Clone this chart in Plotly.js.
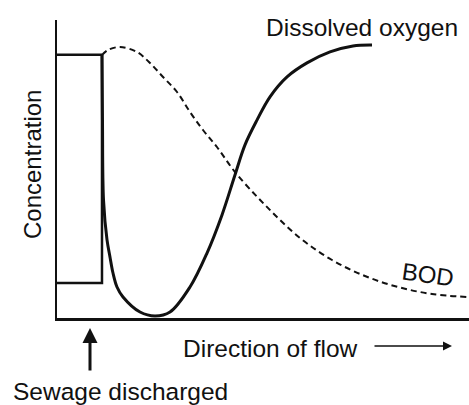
<!DOCTYPE html>
<html>
<head>
<meta charset="utf-8">
<script src="https://cdn.plot.ly/plotly-3.0.1.min.js"></script>
<style>html,body{margin:0;padding:0;background:#fff;}#chart{width:469px;height:405px;}</style>
</head>
<body>
<div id="chart"></div>
<script>
// Distance downstream (0-100) and concentration (0-100), schematic values
var doBeforeX = [0, 10.92];
var doBeforeY = [88.3, 88.3];

var doX = [10.92, 11.04, 11.29, 12.14, 12.86, 13.59, 14.56, 16.02, 20.15, 23.79, 27.43, 32.28, 36.41, 40.05, 43.2, 45.63, 48.54, 51.7, 55.83, 60.68, 66.26, 71.84, 76.46];
var doY = [88.3, 66.4, 39.6, 26.2, 20.5, 15.1, 10.4, 7.05, 2.0, 0.67, 2.0, 10.4, 21.8, 34.6, 48.0, 58.1, 66.4, 74.2, 80.9, 85.6, 89.3, 91.3, 91.6];

var bodBeforeX = [0, 10.92, 10.92];
var bodBeforeY = [11.74, 11.74, 88.26];

var bodX = [10.92, 12.38, 15.29, 19.42, 22.57, 25.73, 29.13, 32.28, 35.44, 38.83, 43.2, 50.49, 58.98, 66.75, 74.76, 82.77, 91.02, 99.51];
var bodY = [88.26, 89.93, 90.94, 89.26, 85.57, 80.87, 75.84, 69.13, 63.09, 57.38, 48.99, 37.92, 26.85, 19.46, 14.09, 10.4, 8.05, 7.05];

var labels = {
  yTitle: "Concentration",
  xTitle: "Direction of flow",
  doLabel: "Dissolved oxygen",
  bodLabel: "BOD",
  discharge: "Sewage discharged"
};

var FONT = "Liberation Sans, Arial, Helvetica, sans-serif";
var L = 57, T = 20, W = 412, H = 298;
function px(x){ return (x - L) / W; }
function py(y){ return (T + H - y) / H; }

var traces = [
  {x: bodBeforeX, y: bodBeforeY, mode: "lines", line: {color: "#111", width: 2.5}, hoverinfo: "skip"},
  {x: doBeforeX, y: doBeforeY, mode: "lines", line: {color: "#111", width: 2.5}, hoverinfo: "skip"},
  {x: bodX, y: bodY, mode: "lines", line: {color: "#111", width: 2, dash: "6px,4px", shape: "spline", smoothing: 1}, hoverinfo: "skip"},
  {x: doX, y: doY, mode: "lines", line: {color: "#111", width: 3, shape: "spline", smoothing: 1}, hoverinfo: "skip"}
];

var layout = {
  width: 469, height: 405,
  margin: {l: L, r: 0, t: T, b: 405 - T - H, pad: 0},
  paper_bgcolor: "#fff", plot_bgcolor: "#fff",
  showlegend: false,
  font: {family: FONT, color: "#111", size: 24},
  xaxis: {range: [0, 100], showline: true, linewidth: 2.5, linecolor: "#111", showgrid: false, zeroline: false, ticks: "", showticklabels: false, fixedrange: true},
  yaxis: {range: [0, 100], showline: true, linewidth: 2.5, linecolor: "#111", showgrid: false, zeroline: false, ticks: "", showticklabels: false, fixedrange: true},
  annotations: [
    {xref: "paper", yref: "paper", x: px(362), y: py(28), text: labels.doLabel, showarrow: false, xanchor: "center", yanchor: "middle", font: {size: 24.5}},
    {xref: "paper", yref: "paper", x: px(428), y: py(274), text: labels.bodLabel, showarrow: false, xanchor: "center", yanchor: "middle", textangle: 8, font: {size: 24}},
    {xref: "paper", yref: "paper", x: px(32), y: py(165), text: labels.yTitle, showarrow: false, xanchor: "center", yanchor: "middle", textangle: -90, font: {size: 24}},
    {xref: "paper", yref: "paper", x: px(270), y: py(348), text: labels.xTitle, showarrow: false, xanchor: "center", yanchor: "middle", font: {size: 24.5}},
    {xref: "paper", yref: "paper", x: px(452), y: py(346), ax: -79, ay: 0, text: "", showarrow: true, arrowhead: 2, arrowsize: 1.2, arrowwidth: 1.5, arrowcolor: "#111"},
    {xref: "paper", yref: "paper", x: px(90), y: py(328), ax: 0, ay: 44, text: "", showarrow: true, arrowhead: 2, arrowsize: 1, arrowwidth: 3, arrowcolor: "#111"},
    {xref: "paper", yref: "paper", x: px(120), y: py(391), text: labels.discharge, showarrow: false, xanchor: "center", yanchor: "middle", font: {size: 24.5}}
  ]
};

Plotly.newPlot("chart", traces, layout, {displayModeBar: false, staticPlot: true});
</script>
</body>
</html>
